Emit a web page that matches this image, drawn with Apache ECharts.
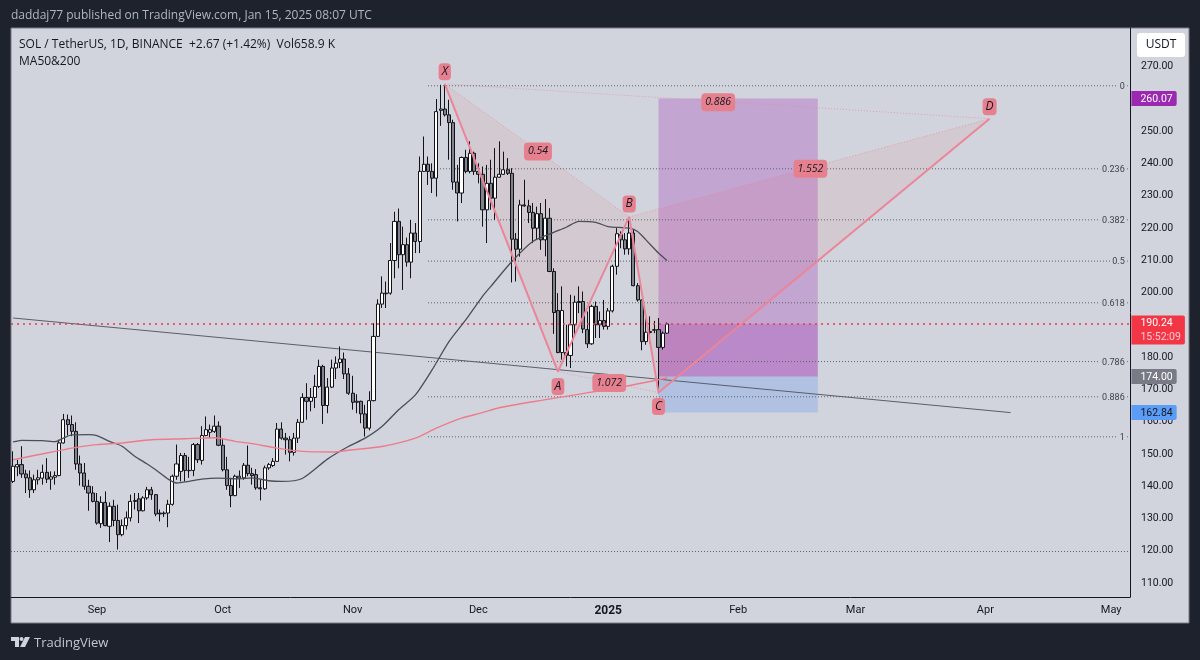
<!DOCTYPE html>
<html>
<head>
<meta charset="utf-8">
<title>SOL / TetherUS</title>
<script src="https://cdn.jsdelivr.net/npm/echarts@6/dist/echarts.min.js"></script>
<style>
  html, body { margin: 0; padding: 0; background: #1e222d; }
  #chart { width: 1200px; height: 660px; }
</style>
</head>
<body>
<div id="chart"></div>
<script>
// daily candles from 2024-08-12: [open, close, low, high]
const candles = [
  [141.5,146.2,141.0,150.8],[146.0,146.7,143.1,148.2],[146.7,143.8,142.6,152.4],[143.8,142.6,137.9,145.1],
  [142.6,138.9,136.4,144.9],[138.9,142.0,137.9,143.6],[142.0,142.6,140.5,145.1],[142.5,144.3,140.5,146.7],
  [144.3,142.2,141.0,148.7],[142.2,142.9,138.9,144.6],[142.8,143.3,140.5,144.6],[143.3,153.4,143.1,154.4],
  [153.4,160.6,153.2,162.4],[160.6,159.1,155.7,162.2],[159.1,157.0,155.5,161.9],[157.0,146.9,145.1,159.8],
  [146.9,144.1,140.2,149.5],[144.1,140.0,138.9,147.2],[140.0,137.9,132.4,142.0],[137.9,135.3,135.0,140.0],
  [135.3,128.6,128.1,137.9],[128.4,135.0,127.1,136.9],[135.0,127.8,127.6,138.4],[127.6,133.8,122.7,135.0],
  [133.8,129.4,127.6,135.8],[129.4,125.0,120.4,134.3],[125.0,127.8,124.5,129.7],[127.8,130.2,126.6,132.2],
  [130.2,135.3,129.1,137.4],[135.3,135.6,132.8,137.9],[136.1,132.4,128.6,137.9],[132.4,136.4,132.2,136.9],
  [136.4,138.9,135.8,139.8],[138.9,137.4,135.8,139.8],[137.4,131.4,130.7,137.6],[131.7,131.4,129.1,132.8],
  [131.5,131.7,130.5,132.2],[131.7,134.4,127.3,135.8],[134.4,143.1,134.0,143.6],[143.1,146.9,142.0,152.9],
  [144.6,149.5,141.5,150.3],[149.5,144.9,141.5,150.3],[144.9,144.8,142.6,149.1],[144.9,152.9,143.1,153.4],
  [152.9,148.2,147.2,153.4],[148.0,155.7,146.7,158.6],[155.7,157.5,155.5,161.6],[156.7,157.5,154.9,159.1],
  [157.0,158.6,156.5,161.9],[158.6,152.7,152.4,160.1],[152.7,145.1,144.6,154.9],[145.1,140.2,138.9,149.1],
  [140.2,137.1,133.5,142.6],[137.1,143.1,136.9,143.6],[142.6,143.1,139.5,144.9],[142.6,146.5,142.0,147.2],
  [146.5,143.9,143.1,152.6],[143.9,143.3,140.5,145.7],[143.6,139.5,138.9,145.3],[139.5,139.2,135.6,142.0],
  [139.2,145.7,138.9,146.4],[145.7,146.7,145.1,147.2],[146.4,147.7,146.0,148.7],[147.7,157.7,147.6,159.6],
  [157.7,154.9,154.4,159.8],[154.9,154.4,149.8,156.5],[154.4,150.5,147.7,155.5],[150.5,154.9,149.5,156.5],
  [154.9,159.8,153.4,160.8],[159.8,167.5,159.6,168.8],[167.5,166.3,160.6,171.9],[166.3,167.5,163.2,170.4],
  [167.5,170.9,164.2,174.5],[170.9,177.1,170.4,179.2],[177.1,165.0,159.3,177.6],[165.0,170.7,162.6,173.5],
  [170.7,176.6,170.4,179.2],[176.6,178.1,173.2,180.2],[178.3,179.4,176.6,183.3],[179.4,174.8,173.2,181.4],
  [174.8,168.8,168.3,176.6],[168.8,166.0,163.7,174.2],[166.0,166.3,162.6,168.5],[166.3,162.4,159.5,166.5],
  [162.4,158.0,155.4,165.2],[158.0,166.5,157.3,169.4],[166.5,186.4,166.3,190.5],[186.4,196.4,186.2,197.9],
  [196.4,199.8,195.2,205.0],[199.8,199.6,195.2,203.4],[199.8,209.9,199.3,215.3],[209.9,222.0,204.4,225.0],
  [222.0,211.7,207.5,226.0],[211.7,214.8,200.8,220.4],[214.8,209.4,208.0,217.0],[209.4,218.4,204.4,222.5],
  [218.4,215.8,212.2,221.5],[215.8,237.5,212.2,242.1],[237.5,239.7,237.4,248.3],[239.7,237.5,233.3,242.1],
  [237.5,235.4,230.8,240.0],[235.4,256.0,229.7,259.9],[256.4,256.8,251.6,264.3],[256.8,255.0,254.5,264.3],
  [255.0,252.6,241.1,259.7],[252.6,234.2,231.8,253.5],[234.2,230.8,222.0,239.5],[230.8,241.8,227.7,242.1],
  [241.8,237.5,236.9,244.2],[237.5,243.1,236.9,246.8],[243.1,237.5,236.4,243.6],[237.5,236.6,233.8,240.0],
  [236.6,225.6,220.4,239.0],[225.6,233.8,215.3,239.5],[233.8,229.2,225.6,241.1],[229.2,235.7,222.5,244.7],
  [235.7,236.6,235.5,246.8],[236.6,238.0,236.4,243.6],[238.0,236.9,236.4,241.6],[236.9,216.5,203.1,238.5],
  [216.5,213.4,203.4,218.4],[213.4,227.1,211.1,228.7],[227.1,226.8,226.6,234.9],[226.8,224.8,221.5,228.7],
  [224.8,219.9,215.3,227.7],[219.9,224.4,216.3,226.6],[224.4,216.3,213.2,227.7],[216.3,223.0,211.2,228.9],
  [223.0,206.5,206.3,226.1],[206.5,193.8,187.2,207.5],[194.4,181.4,181.2,199.8],[181.4,194.4,179.2,201.9],
  [181.4,180.5,177.1,190.0],[180.5,190.0,176.6,199.3],[190.0,197.0,186.4,199.0],[197.2,196.9,193.6,201.9],
  [197.2,188.7,187.4,200.3],[188.5,184.1,182.8,194.1],[184.1,195.7,183.8,196.2],[195.7,190.0,185.9,197.2],
  [190.0,191.3,185.9,194.1],[191.3,189.5,188.5,197.7],[189.5,194.3,188.5,195.2],[194.3,208.1,193.8,208.6],
  [208.1,218.2,205.5,219.9],[217.9,216.3,213.7,218.9],[216.3,213.5,211.7,218.4],[213.5,218.4,211.7,223.0],
  [218.4,202.1,201.9,219.4],[202.1,197.7,197.2,202.9],[197.7,184.8,182.1,197.8],[184.8,187.7,183.8,192.6],
  [187.9,187.6,184.3,192.6],[188.3,188.5,187.4,191.2],[188.5,183.0,168.8,192.1],[183.0,187.4,182.3,187.9],
  [187.4,190.24,187.2,190.7]
];

// moving averages: [bar number, price]
const ma50 = [
  [0,153.7],[2,154.2],[7,154.1],[10,153.8],[12,154.9],[14,155.9],[18,156.0],[20,155.7],[23,153.9],[26,152.4],
  [29,149.3],[32,146.9],[34,145.1],[37,142.2],[39,141.0],[42,141.5],[45,142.2],[49,142.5],[54,142.3],[57,142.6],
  [61,141.7],[64,141.5],[69,142.4],[75,148.4],[80,152.3],[84,154.9],[88,158.5],[92,163.7],[96,168.3],[100,176.1],
  [104,184.8],[108,191.5],[112,198.8],[114,201.9],[119,209.6],[124,215.8],[129,218.6],[132,220.2],[135,222.0],
  [139,221.7],[142,220.4],[147,219.9],[149,218.9],[151,216.3],[154,212.2],[156,209.9]
];
const ma200 = [
  [0,148.2],[5,149.5],[10,150.8],[14,151.8],[20,152.9],[26,153.4],[33,154.4],[41,154.7],[48,155.0],[53,153.9],
  [57,153.2],[63,151.8],[69,150.8],[76,150.6],[81,151.3],[88,152.3],[96,154.9],[101,158.0],[107,161.1],[112,162.8],
  [116,164.3],[126,166.6],[134,168.3],[146,170.9],[156,173.5]
];
const trendLine = [[0,192.1],[238,162.8]];

// XABCD pattern
const patternNames = ['X','A','B','C','D'];
const patternBars = [103,130,147,154,233];
const patternPrices = [264.6,175.5,223.4,169.0,253.8];
const patternLabelOffsets = [[0,-12],[0,15],[0,-13],[0,14],[0,-12]];
const ratioNames = ['0.54','1.072','1.552','0.886'];
const ratioPairs = [[0,2],[1,3],[2,4],[0,4]];

// fib levels
const fibNames = ['0','0.236','0.382','0.5','0.618','0.786','0.886','1'];
const fibPrices = [264.0,238.3,222.5,209.7,196.8,178.6,167.7,155.3];
const fibStartBar = 99;

// long position box
const positionBars = [154,192];
const targetPrice = 260.07;
const entryPrice = 174.0;
const stopPrice = 162.84;
const lastPrice = 190.24;
const lastCountdown = '15:52:09';
const guidePrice = 120;

const priceTicks = [110,120,130,140,150,160,170,180,190,200,210,220,230,240,250,260,270];
const monthDates = ['2024-09-01','2024-10-01','2024-11-01','2024-12-01','2025-01-01','2025-02-01','2025-03-01','2025-04-01','2025-05-01'];
const monthLabels = ['Sep','Oct','Nov','Dec','2025','Feb','Mar','Apr','May'];

// category axis, one band per day
const days = [];
for (let i = 0; i < 267; i++) {
  days.push(new Date(Date.UTC(2024, 7, 12 + i)).toISOString().slice(0, 10));
}
const lastBar = days.length - 1;

const bg = '#d1d4dc';
const ink = '#131722';
const pink = '#ec8599';
const tagPink = '#e6808f';
const font = '"Open Sans", "Noto Sans", sans-serif';
const small = 'Roboto, "Open Sans", sans-serif';

function pointOf(k) {
  return [patternBars[k], patternPrices[k]];
}

function thinLine(name, data, color, width, type, z) {
  return {
    name, type: 'line', data, showSymbol: false, silent: true, animation: false, z: z || 3,
    lineStyle: { color, width, type: type || 'solid' }
  };
}

function priceTag(price, text, fill, color, dy) {
  return {
    value: [lastBar, price],
    label: {
      show: true, opacity: 1, position: 'right', distance: 3.5, offset: [0, dy || 0], formatter: text,
      backgroundColor: fill, color, fontFamily: small, fontSize: 10.5, lineHeight: 14,
      padding: [1, 4, 0, 9], borderRadius: [0, 2, 2, 0],
      rich: { dim: { color: '#ffc9ce', fontFamily: small, fontSize: 10.5, lineHeight: 14 } }
    }
  };
}

const fibLines = fibPrices.map((p, i) => thinLine('fib' + fibNames[i], [[fibStartBar, p], [lastBar, p]], '#5f626b', 1, [1, 2], 2));
const smoothMa = (line) => Object.assign(line, { smooth: 0.25 });

const option = {
  animation: false,
  backgroundColor: '#1e222d',
  grid: { left: 11, right: 70, top: 28, bottom: 63 },
  xAxis: {
    type: 'category',
    data: days,
    boundaryGap: true,
    axisLine: { lineStyle: { color: ink, width: 1 } },
    axisTick: { show: false },
    splitLine: { show: false },
    axisLabel: {
      interval: (i, v) => monthDates.includes(v),
      margin: 8,
      color: ink,
      fontFamily: small,
      fontSize: 11,
      formatter: v => {
        const label = monthLabels[monthDates.indexOf(v)];
        return label === '2025' ? '{b|2025}' : label;
      },
      rich: { b: { fontWeight: 'bold', color: ink, fontFamily: small, fontSize: 12 } }
    }
  },
  yAxis: {
    type: 'value',
    position: 'right',
    min: 105.7,
    max: 281.9,
    axisLine: { show: true, onZero: false, lineStyle: { color: ink, width: 1 } },
    axisTick: { show: false },
    splitLine: { show: false },
    axisLabel: {
      customValues: priceTicks,
      margin: 11,
      color: ink,
      fontFamily: small,
      fontSize: 10.5,
      formatter: v => v.toFixed(2)
    }
  },
  graphic: [
    // frame behind the plot
    { type: 'rect', z: -10, shape: { x: 11, y: 28, width: 1178, height: 595 }, style: { fill: bg, stroke: '#787b86', lineWidth: 1 } },
    { type: 'text', x: 11, y: 10, z: 10, style: { text: 'daddaj77 published on TradingView.com, Jan 15, 2025 08:07 UTC', fill: '#b2b5be', font: '12px ' + font } },
    { type: 'text', x: 19, y: 39, z: 10, style: { text: 'SOL / TetherUS, 1D, BINANCE  +2.67 (+1.42%)  Vol658.9 K', fill: ink, font: '12px ' + font } },
    { type: 'text', x: 19, y: 56, z: 10, style: { text: 'MA50&200', fill: ink, font: '12px ' + font } },
    { type: 'rect', z: 10, shape: { x: 1137, y: 33, width: 48, height: 24, r: 3 }, style: { fill: '#ffffff' } },
    { type: 'text', x: 1161, y: 45, z: 11, style: { text: 'USDT', fill: ink, font: '12px ' + font, textAlign: 'center', textVerticalAlign: 'middle' } },
    // TradingView mark
    { type: 'polygon', z: 10, shape: { points: [[11, 637], [19, 637], [19, 647], [15, 647], [15, 641], [11, 641]] }, style: { fill: '#d1d4dc' } },
    { type: 'circle', z: 10, shape: { cx: 21.5, cy: 639, r: 2 }, style: { fill: '#d1d4dc' } },
    { type: 'polygon', z: 10, shape: { points: [[25, 637], [30, 637], [25, 647], [20, 647]] }, style: { fill: '#d1d4dc' } },
    { type: 'text', x: 34, y: 637, z: 10, style: { text: 'TradingView', fill: '#c3c6ce', font: '13px ' + font } }
  ],
  series: [
    {
      // position box, behind the candles
      name: 'position', type: 'line', data: [], z: 1, silent: true,
      markArea: {
        silent: true,
        data: [
          [{ coord: [positionBars[0], targetPrice], itemStyle: { color: 'rgba(156,39,176,0.27)' } }, { coord: [positionBars[1], entryPrice] }],
          [{ coord: [positionBars[0], lastPrice], itemStyle: { color: 'rgba(156,39,176,0.22)' } }, { coord: [positionBars[1], entryPrice] }],
          [{ coord: [positionBars[0], entryPrice], itemStyle: { color: 'rgba(50,120,250,0.2)' } }, { coord: [positionBars[1], stopPrice] }]
        ]
      }
    },
    ...fibLines,
    {
      // pattern fill XAB and BCD
      name: 'patternFill', type: 'custom', z: 1, silent: true, clip: false,
      data: [[0, 1, 2], [2, 3, 4]],
      renderItem: (params, api) => {
        const pts = [api.value(0), api.value(1), api.value(2)].map(k => api.coord(pointOf(k)));
        return { type: 'polygon', shape: { points: pts }, style: { fill: 'rgba(242,54,69,0.07)' } };
      }
    },
    thinLine('trend', trendLine, '#5a5e69', 1),
    {
      name: 'SOL', type: 'candlestick', data: candles, barWidth: 3.6, z: 4, silent: true,
      itemStyle: { color: '#ffffff', color0: '#80838a', borderColor: '#111318', borderColor0: '#111318', borderWidth: 1 },
      markLine: {
        silent: true, symbol: 'none', label: { show: false },
        data: [
          { yAxis: lastPrice, lineStyle: { color: '#f23645', width: 1.5, type: [2, 4] } },
          { yAxis: guidePrice, lineStyle: { color: '#5f626b', width: 1, type: [1, 2] } }
        ]
      }
    },
    smoothMa(thinLine('MA50', ma50, '#4a4e57', 1.3, 'solid', 5)),
    smoothMa(thinLine('MA200', ma200, '#ee7b8b', 1.4, 'solid', 5)),
    // pattern outline
    thinLine('XABCD', patternBars.map((b, i) => [b, patternPrices[i]]), pink, 2, 'solid', 6),
    ...ratioPairs.map((pair, i) => thinLine('ratioLine' + i, [pointOf(pair[0]), pointOf(pair[1])], 'rgba(236,133,153,0.75)', 1, [1, 2], 6)),
    {
      // X A B C D labels
      name: 'pointLabels', type: 'scatter', symbolSize: 0, z: 8, silent: true, clip: false,
      data: patternNames.map((n, i) => ({
        value: pointOf(i),
        label: {
          show: true, opacity: 1, position: 'inside', offset: patternLabelOffsets[i], formatter: n,
          backgroundColor: tagPink, borderRadius: 4, padding: [3, 3, 2, 3],
          color: ink, fontFamily: font, fontStyle: 'italic', fontSize: 12
        }
      }))
    },
    {
      // ratio labels, centred on the dotted legs
      name: 'ratioLabels', type: 'scatter', symbolSize: 0, z: 8, silent: true, clip: false,
      data: ratioNames.map((n, i) => {
        const a = pointOf(ratioPairs[i][0]);
        const b = pointOf(ratioPairs[i][1]);
        return {
          value: [(a[0] + b[0]) / 2, (a[1] + b[1]) / 2],
          label: {
            show: true, opacity: 1, position: 'inside', offset: [1, 1], formatter: n,
            backgroundColor: tagPink, borderRadius: 4, padding: [4, 4, 3, 4],
            color: ink, fontFamily: font, fontStyle: 'italic', fontSize: 10.5
          }
        };
      })
    },
    {
      name: 'fibLabels', type: 'scatter', symbolSize: 0, z: 7, silent: true, clip: false,
      data: fibNames.map((n, i) => ({
        value: [265, fibPrices[i]],
        label: {
          show: true, opacity: 1, position: 'left', distance: -3, offset: [0, 1], formatter: n,
          backgroundColor: bg, padding: [0, 2],
          color: '#3c3f47', fontFamily: small, fontSize: 9
        }
      }))
    },
    {
      name: 'priceTags', type: 'scatter', symbolSize: 0, z: 9, silent: true, clip: false,
      data: [
        priceTag(targetPrice, targetPrice.toFixed(2), '#9c27b0', '#ffffff'),
        priceTag(lastPrice, lastPrice.toFixed(2) + '\n{dim|' + lastCountdown + '}', '#f23645', '#ffffff', 6),
        priceTag(entryPrice, entryPrice.toFixed(2), '#787b86', '#ffffff'),
        priceTag(stopPrice, stopPrice.toFixed(2), '#5b9cf6', ink)
      ]
    }
  ]
};

const chart = echarts.init(document.getElementById('chart'), null, { renderer: 'canvas' });
chart.setOption(option);
</script>
</body>
</html>
